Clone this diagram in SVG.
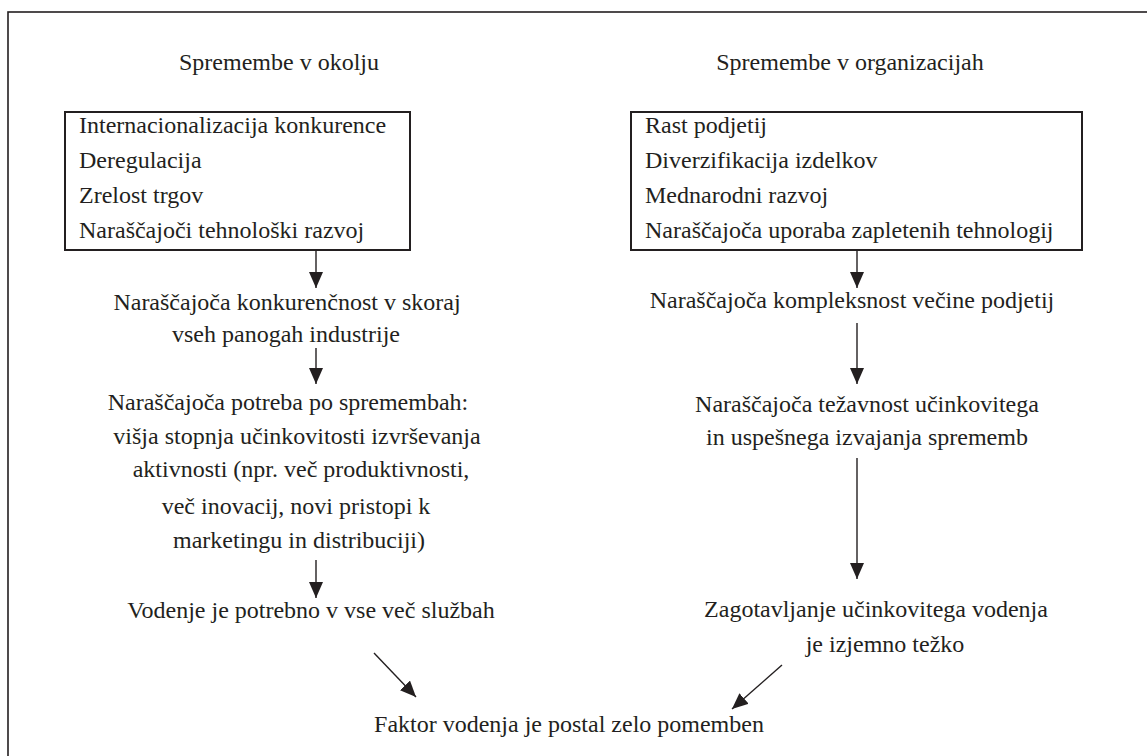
<svg xmlns="http://www.w3.org/2000/svg" width="1147" height="756" viewBox="0 0 1147 756">
<defs>
<marker id="ah" viewBox="0 0 16 14" markerUnits="userSpaceOnUse" markerWidth="16" markerHeight="14" refX="16" refY="7" orient="auto">
<path d="M0,0 L16,7 L0,14 z" fill="#231f20"/>
</marker>
<style>
text{font-family:"Liberation Serif","Times New Roman",serif;font-size:24px;fill:#231f20}
.c{text-anchor:middle}
.box{fill:none;stroke:#231f20;stroke-width:2}
.con{stroke:#231f20;stroke-width:1.4;fill:none;marker-end:url(#ah)}
</style>
</defs>
<rect width="1147" height="756" fill="#fff"/>
<rect x="8" y="12" width="1200" height="800" fill="none" stroke="#231f20" stroke-width="1.6"/>
<g id="title-left"><text class="c" x="279" y="70">Spremembe v okolju</text></g>
<g id="title-right"><text class="c" x="850" y="70">Spremembe v organizacijah</text></g>
<g id="box-left">
<rect class="box" x="65" y="112" width="345" height="138"/>
<text x="79" y="133">Internacionalizacija konkurence</text>
<text x="79" y="168">Deregulacija</text>
<text x="79" y="203">Zrelost trgov</text>
<text x="79" y="238">Naraščajoči tehnološki razvoj</text>
</g>
<g id="box-right">
<rect class="box" x="631" y="112" width="451" height="138"/>
<text x="645" y="133">Rast podjetij</text>
<text x="645" y="168">Diverzifikacija izdelkov</text>
<text x="645" y="203">Mednarodni razvoj</text>
<text x="645" y="238">Naraščajoča uporaba zapletenih tehnologij</text>
</g>
<g id="left-1">
<text class="c" x="287" y="310">Naraščajoča konkurenčnost v skoraj</text>
<text class="c" x="286" y="342">vseh panogah industrije</text>
</g>
<g id="left-2">
<text class="c" x="288" y="410">Naraščajoča potreba po spremembah:</text>
<text class="c" x="297" y="444">višja stopnja učinkovitosti izvrševanja</text>
<text class="c" x="301" y="477">aktivnosti (npr. več produktivnosti,</text>
<text class="c" x="296" y="514">več inovacij, novi pristopi k</text>
<text class="c" x="299" y="548">marketingu in distribuciji)</text>
</g>
<g id="left-3"><text class="c" x="311" y="618">Vodenje je potrebno v vse več službah</text></g>
<g id="right-1"><text class="c" x="852" y="308">Naraščajoča kompleksnost večine podjetij</text></g>
<g id="right-2">
<text class="c" x="867" y="412">Naraščajoča težavnost učinkovitega</text>
<text class="c" x="867" y="445">in uspešnega izvajanja sprememb</text>
</g>
<g id="right-3">
<text class="c" x="876" y="617">Zagotavljanje učinkovitega vodenja</text>
<text class="c" x="885" y="652">je izjemno težko</text>
</g>
<g id="bottom"><text class="c" x="569" y="732">Faktor vodenja je postal zelo pomemben</text></g>
<g id="connectors">
<line class="con" x1="316" y1="251" x2="316" y2="288"/>
<line class="con" x1="316" y1="348" x2="316" y2="384"/>
<line class="con" x1="316" y1="560" x2="316" y2="598"/>
<line class="con" x1="857" y1="251" x2="857" y2="288"/>
<line class="con" x1="857" y1="323" x2="857" y2="384"/>
<line class="con" x1="857" y1="458" x2="857" y2="579"/>
<line class="con" x1="374" y1="653" x2="416" y2="697"/>
<line class="con" x1="782" y1="665" x2="732" y2="709"/>
</g>
</svg>
